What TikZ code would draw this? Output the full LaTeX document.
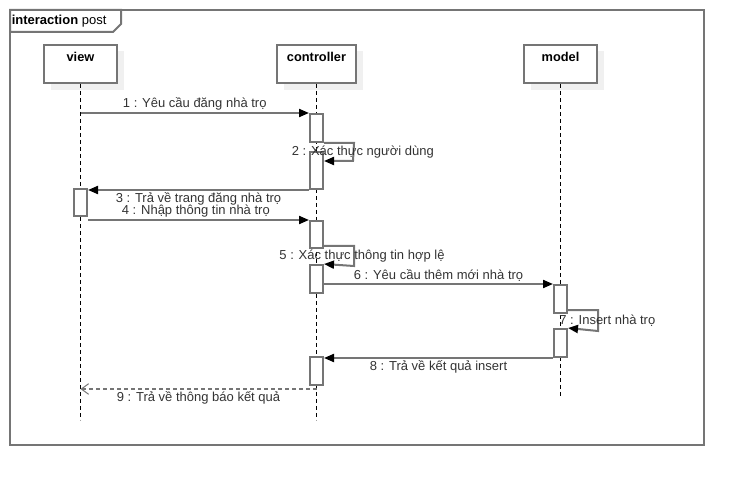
\documentclass[tikz,border=0pt]{standalone}
\usepackage{fontspec}
\setmainfont{Liberation Sans}
\usetikzlibrary{arrows.meta,shadows,calc}
\definecolor{ln}{HTML}{757575}
\definecolor{shd}{HTML}{F0F0F0}
\definecolor{txt}{HTML}{333333}
\tikzset{
  lnw/.style={line width=1.5pt, draw=ln},
  headbox/.style={rectangle, lnw, fill=white, inner xsep=0pt, inner ysep=0pt,
    text height=12.75pt, text depth=16.1pt, text=black,
    font=\bfseries\fontsize{9.6}{11}\selectfont,
    general shadow={fill=shd, shadow xshift=5.25pt, shadow yshift=-4.9pt}},
  actbox/.style={rectangle, lnw, fill=white, minimum width=9.75pt, inner sep=0pt},
  lifeline/.style={draw=black, line width=0.75pt, dash pattern=on 3pt off 2.25pt},
  msg/.style={lnw, -{Triangle[length=7.5pt,width=6pt,color=black]}},
  ret/.style={lnw, dash pattern=on 3pt off 2.25pt, -{Straight Barb[length=5.5pt,width=8pt,line width=0.75pt]}},
  lbl/.style={text=txt, font=\fontsize{9.75}{11}\selectfont, inner sep=1pt},
}
\begin{document}
\begin{tikzpicture}[x=0.75pt,y=-0.75pt]
\useasboundingbox (0,0) rectangle (744,485);
% frame
\draw[lnw] (10,10) rectangle (704,445);
\draw[lnw, fill=white] (10,10) -- (121,10) -- (121,24) -- (113,32) -- (10,32) -- cycle;
\node[anchor=west, inner sep=0pt, font=\fontsize{9.75}{11}\selectfont] (title) at (11.5,21) {\textbf{interaction} post};
% lifeline heads
\node[headbox, minimum width=54.75pt] (view) at (80.5,63.75) {view};
\node[headbox, minimum width=59.25pt] (ctrl) at (316.5,63.75) {controller};
\node[headbox, minimum width=54.75pt] (model) at (560.5,63.75) {model};
% lifeline ends
\coordinate (viewend) at (80.5,420);
\coordinate (ctrlend) at (316.5,420);
\coordinate (modelend) at (560.5,398);
\draw[lifeline] (view.south) -- (viewend);
\draw[lifeline] (ctrl.south) -- (ctrlend);
\draw[lifeline] (model.south) -- (modelend);
% activations
\node[actbox, minimum height=21pt] (c1) at (316.5,128) {};
\node[actbox, minimum height=27.75pt] (c2) at (316.5,170.5) {};
\node[actbox, minimum height=20.25pt] (v1) at (80.5,202.5) {};
\node[actbox, minimum height=20.25pt] (c3) at (316.5,234.5) {};
\node[actbox, minimum height=21pt] (c4) at (316.5,279) {};
\node[actbox, minimum height=21pt] (m1) at (560.5,299) {};
\node[actbox, minimum height=21pt] (m2) at (560.5,343) {};
\node[actbox, minimum height=21pt] (c5) at (316.5,371) {};
% messages
\draw[msg] (c1.north west -| view.south) -- node[lbl, above] {1 : Yêu cầu đăng nhà trọ} (c1.north west);
\coordinate (s2) at (353,161);
\draw[msg] (c1.south east) -- ++(30,0) -- node[lbl, xshift=7pt] {2 : Xác thực người dùng} (s2) -- (s2 -| c2.east);
\draw[msg] (c2.south west) -- node[lbl, below] {3 : Trả về trang đăng nhà trọ} (c2.south west -| v1.east);
\draw[msg] (c3.north west -| v1.east) -- node[lbl, above, xshift=-2pt] {4 : Nhập thông tin nhà trọ} (c3.north west);
\draw[msg] ([yshift=2.25pt]c3.south east) -- ++(30,0) -- node[lbl, xshift=6pt] {5 : Xác thực thông tin hợp lệ} ++(0,20) -- (c4.north east);
\draw[msg] (m1.north west -| c4.east) -- node[lbl, above] {6 : Yêu cầu thêm mới nhà trọ} (m1.north west);
\draw[msg] ([yshift=3pt]m1.south east) -- ++(30,0) -- node[lbl, xshift=7pt] {7 : Insert nhà trọ} ++(0,21) -- (m2.north east);
\draw[msg] (m2.south west) -- node[lbl, below] {8 : Trả về kết quả insert} (m2.south west -| c5.east);
\coordinate (r9) at (316.5,389);
\draw[ret] (r9) -- node[lbl, below] {9 : Trả về thông báo kết quả} (r9 -| view.south);
\end{tikzpicture}
\end{document}
